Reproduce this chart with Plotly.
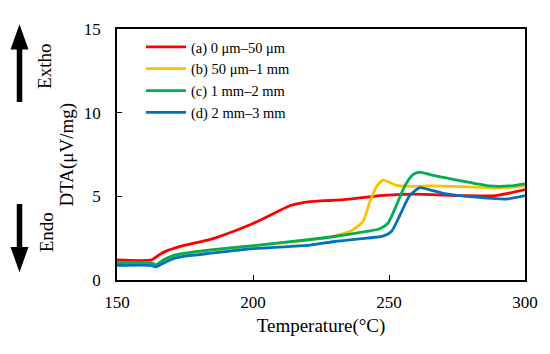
import plotly.graph_objects as go

names = ["(a) 0 μm–50 μm", "(b) 50 μm–1 mm", "(c) 1 mm–2 mm", "(d) 2 mm–3 mm"]
colors = ["#FF0000", "#FFC000", "#00B050", "#0070C0"]

t_a = [150, 162.7, 165, 168.2, 175.5, 184, 192.7, 200, 207.4, 213.5, 218.4, 224.6, 228.2, 235.6, 246.6, 258.8, 277, 289, 300]
v_a = [1.2, 1.2, 1.45, 1.74, 2.1, 2.41, 2.9, 3.38, 3.96, 4.44, 4.63, 4.73, 4.75, 4.83, 5.04, 5.13, 5.04, 5.04, 5.4]

t_b = [150, 162.5, 164.3, 167, 170.4, 175, 184.5, 200, 221, 228, 230.7, 235.6, 240.4, 242.9, 245.5, 247.8, 250, 252.7, 258, 265, 277, 287, 294, 300]
v_b = [1.02, 1.02, 0.9, 1.18, 1.43, 1.58, 1.78, 2.03, 2.4, 2.55, 2.67, 2.9, 3.49, 4.65, 5.6, 5.97, 5.85, 5.66, 5.6, 5.62, 5.58, 5.5, 5.52, 5.62]

t_c = [150, 162.5, 164.3, 167, 170.4, 175, 184.5, 200, 221, 230, 241.7, 246.6, 249.6, 252.7, 255.8, 258.8, 261.3, 265, 271, 277, 287, 294.4, 300]
v_c = [1.03, 1.03, 0.91, 1.2, 1.45, 1.6, 1.8, 2.05, 2.42, 2.6, 2.9, 3.06, 3.39, 4.46, 5.62, 6.3, 6.45, 6.3, 6.1, 5.91, 5.62, 5.62, 5.75]

t_d = [150, 162.5, 164.3, 167, 170.4, 175, 184.5, 200, 221, 230, 241.7, 247.8, 250.9, 254, 257.6, 261.3, 265, 271, 279.7, 293.2, 300]
v_d = [0.87, 0.87, 0.78, 1.0, 1.26, 1.42, 1.6, 1.87, 2.09, 2.3, 2.5, 2.62, 2.9, 3.87, 5.04, 5.52, 5.39, 5.14, 4.98, 4.84, 5.04]

x_ticks = [150, 200, 250, 300]
y_ticks = [0, 5, 10, 15]

FONT = "Liberation Serif"

fig = go.Figure()
for t, v, n, c in zip([t_a, t_b, t_c, t_d], [v_a, v_b, v_c, v_d], names, colors):
    fig.add_trace(go.Scatter(x=t, y=v, name=n, mode="lines",
                             line=dict(color=c, width=2.8, shape="spline", smoothing=0.6)))

W, H = 550, 354
OFF = 8  # browser body margin
PL, PR, PT, PB = 117, 525, 22, 280  # plot area in window pixels
L, T = PL - OFF, PT - OFF
R = W - (PR - OFF)
B = H - (PB - OFF)
pw, ph = PR - PL, PB - PT

def px(x):
    return (x - PL) / pw

def py(y):
    return (PB - y) / ph

fig.update_layout(
    width=W, height=H,
    margin=dict(l=L, r=R, t=T, b=B),
    paper_bgcolor="white", plot_bgcolor="white",
    font=dict(family=FONT, color="black", size=17),
    showlegend=True,
    legend=dict(x=px(141), y=py(24), xanchor="left", yanchor="top",
                bgcolor="rgba(0,0,0,0)", font=dict(size=14.5, family=FONT),
                tracegroupgap=0, itemwidth=40),
    xaxis=dict(range=[150, 300], tickvals=x_ticks, showgrid=False, zeroline=False,
               showline=True, linecolor="black", linewidth=1.5, mirror=True,
               ticks="inside", ticklen=5, tickcolor="black",
               tickfont=dict(size=17), ticklabelstandoff=6,
               title=dict(text="Temperature(°C)", font=dict(size=19), standoff=8)),
    yaxis=dict(range=[0, 15], tickvals=y_ticks, showgrid=False, zeroline=False,
               showline=True, linecolor="black", linewidth=1.5, mirror=True,
               ticks="inside", ticklen=5, tickcolor="black",
               tickfont=dict(size=17), ticklabelstandoff=11,
               title=dict(text="")),
)

ann = [
    dict(text="DTA(μV/mg)", x=px(66), y=py(151), textangle=-90),
    dict(text="Extho", x=px(45), y=py(61), textangle=-90),
    dict(text="Endo", x=px(46), y=py(231), textangle=-90),
]
for a in ann:
    fig.add_annotation(xref="paper", yref="paper", showarrow=False,
                       xanchor="center", yanchor="middle",
                       font=dict(size=19, family=FONT), **a)

def arrow_path(xc, y_tail, y_tip, head_len, shaft_w, head_w):
    d = 1 if y_tip > y_tail else -1
    y_base = y_tip - d * head_len
    pts = [(xc - shaft_w / 2, y_tail), (xc - shaft_w / 2, y_base), (xc - head_w / 2, y_base),
           (xc, y_tip), (xc + head_w / 2, y_base), (xc + shaft_w / 2, y_base),
           (xc + shaft_w / 2, y_tail)]
    return "M " + " L ".join(f"{px(x):.5f},{py(y):.5f}" for x, y in pts) + " Z"

for path in [arrow_path(19.5, 97, 17, 26, 5.5, 18), arrow_path(19.5, 202, 272, 26, 5.5, 18)]:
    fig.add_shape(type="path", path=path, xref="paper", yref="paper",
                  fillcolor="black", line=dict(color="black", width=0))

fig.write_html("out.html")
